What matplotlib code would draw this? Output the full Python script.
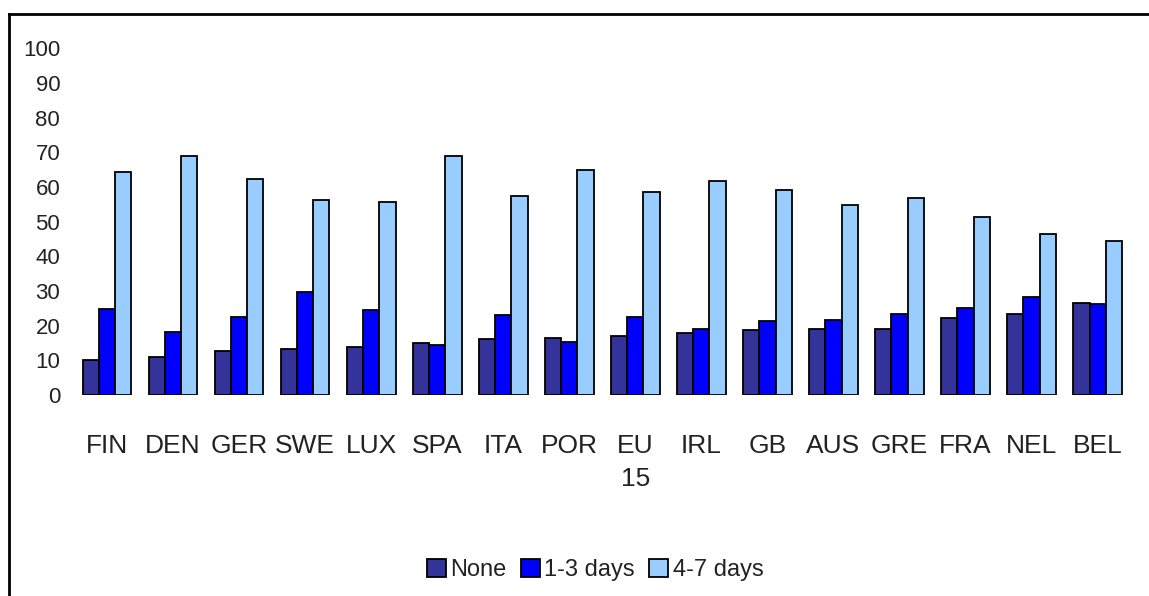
import numpy as np
import matplotlib.pyplot as plt
from matplotlib.lines import Line2D

plt.rcParams['font.family'] = ['Liberation Sans Narrow', 'Liberation Sans', 'DejaVu Sans']

# Donnees
pays = ['FIN', 'DEN', 'GER', 'SWE', 'LUX', 'SPA', 'ITA', 'POR', 'EU\n15',
        'IRL', 'GB', 'AUS', 'GRE', 'FRA', 'NEL', 'BEL']
aucun = [10.1, 11.0, 12.8, 13.3, 13.8, 14.9, 16.2, 16.5, 17.1, 17.8, 18.7,
         19.2, 19.2, 22.1, 23.5, 26.6]
jours_1_3 = [24.8, 18.1, 22.6, 29.6, 24.5, 14.4, 23.1, 15.4, 22.4, 19.2,
             21.3, 21.6, 23.5, 25.1, 28.3, 26.2]
jours_4_7 = [64.4, 68.9, 62.4, 56.2, 55.7, 68.9, 57.4, 65.0, 58.6, 61.8,
             59.1, 54.8, 56.7, 51.4, 46.6, 44.5]
series = ['None', '1-3 days', '4-7 days']
couleurs = ['#333399', '#0000FF', '#99CCFF']

fig = plt.figure(figsize=(11.49, 5.96), dpi=100)
ax = fig.add_axes([0.0645, 0.337, 0.9195, 0.582])

x = np.arange(len(pays))
w = 0.245
for k, (vals, nom, c) in enumerate(zip([aucun, jours_1_3, jours_4_7], series, couleurs)):
    ax.bar(x + (k - 1) * w, vals, width=w, color=c, edgecolor='black',
           linewidth=1.3, label=nom, zorder=2)

ax.set_xlim(-0.5, len(pays) - 0.5)
ax.set_ylim(0, 100)
ax.set_yticks(np.arange(0, 101, 10))
ax.set_xticks(x)
ax.set_xticklabels(pays, fontsize=19, color='#222222', linespacing=1.45)
ax.tick_params(axis='y', labelsize=16, length=0, pad=10, labelcolor='#222222')
ax.tick_params(axis='x', length=0, pad=28)
for s in ax.spines.values():
    s.set_visible(False)

# cadre (bords gauche et haut)
fig.add_artist(Line2D([9 / 1149, 9 / 1149], [0, 1 - 14 / 596], color='black',
                      linewidth=2, transform=fig.transFigure))
fig.add_artist(Line2D([9 / 1149, 1], [1 - 14 / 596, 1 - 14 / 596], color='black',
                      linewidth=2, transform=fig.transFigure))

leg = fig.legend(loc='center', bbox_to_anchor=(0.518, 0.043), ncol=3,
                 frameon=False, fontsize=17, handlelength=0.8, handleheight=0.8,
                 handletextpad=0.2, columnspacing=0.6)
for t in leg.get_texts():
    t.set_color('#222222')

plt.savefig('out.png', dpi=100)
